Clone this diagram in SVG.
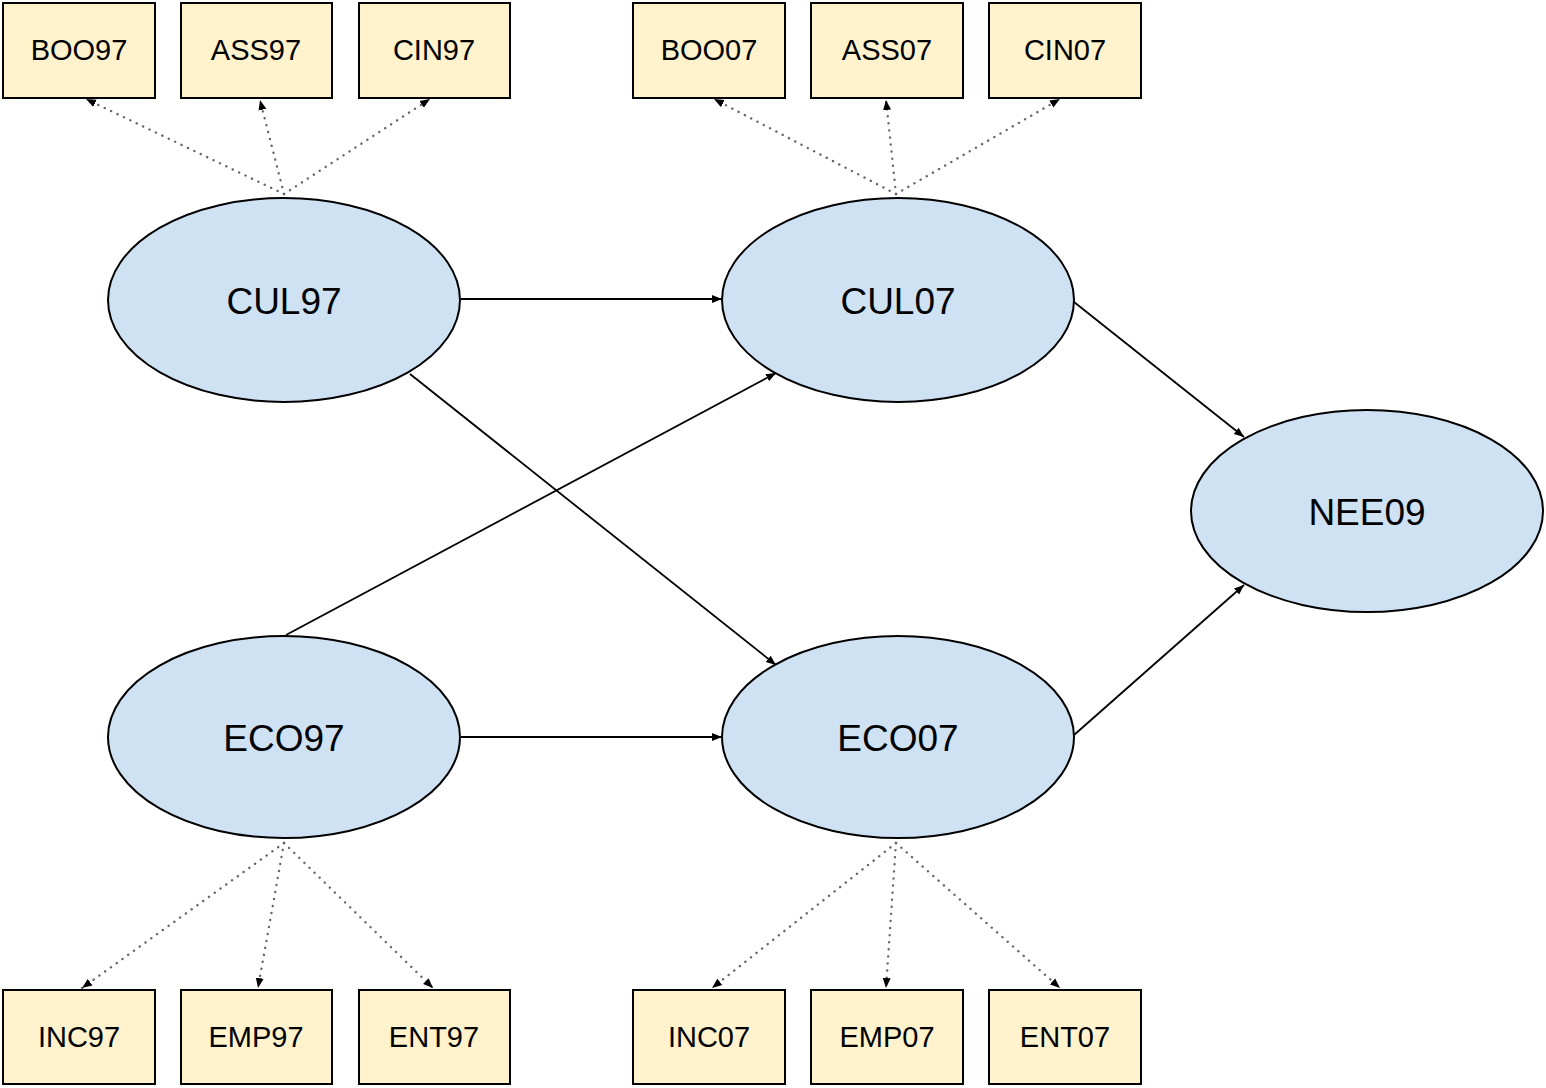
<svg xmlns="http://www.w3.org/2000/svg" width="1546" height="1088" viewBox="0 0 1546 1088">
<style>
.box{fill:#fff2cc;stroke:#000;stroke-width:2}
.ell{fill:#cfe2f3;stroke:#000;stroke-width:2}
.bt{font-family:"Liberation Sans",Arial,sans-serif;font-size:29px;fill:#000;text-anchor:middle;dominant-baseline:central}
.et{font-family:"Liberation Sans",Arial,sans-serif;font-size:37px;fill:#000;text-anchor:middle;dominant-baseline:central}
.solid{stroke:#000;stroke-width:1.8;fill:none;marker-end:url(#ah)}
.dot{stroke:#666;stroke-width:2.4;fill:none;stroke-dasharray:0.1 7;stroke-linecap:round;marker-end:url(#ah)}
</style>
<defs>
<marker id="ah" viewBox="0 0 10 10" refX="10" refY="5" markerWidth="10" markerHeight="10" markerUnits="userSpaceOnUse" orient="auto">
<path d="M0,1 L10,5 L0,9 z" fill="#000"/>
</marker>
</defs>
<rect width="1546" height="1088" fill="#fff"/>
<g id="connectors">
<line class="dot" x1="284" y1="194" x2="86" y2="99"/>
<line class="dot" x1="284" y1="194" x2="260" y2="100"/>
<line class="dot" x1="284" y1="194" x2="430" y2="99"/>
<line class="dot" x1="896" y1="194" x2="714" y2="99"/>
<line class="dot" x1="896" y1="194" x2="886" y2="100"/>
<line class="dot" x1="896" y1="194" x2="1060" y2="99"/>
<line class="dot" x1="284" y1="843" x2="82" y2="988"/>
<line class="dot" x1="284" y1="843" x2="258" y2="988"/>
<line class="dot" x1="284" y1="843" x2="433" y2="988"/>
<line class="dot" x1="896" y1="843" x2="712" y2="988"/>
<line class="dot" x1="896" y1="843" x2="886" y2="988"/>
<line class="dot" x1="896" y1="843" x2="1060" y2="988"/>
<line class="solid" x1="461" y1="299" x2="722" y2="299"/>
<line class="solid" x1="461" y1="737" x2="722" y2="737"/>
<line class="solid" x1="410" y1="374" x2="776" y2="665"/>
<line class="solid" x1="286" y1="635" x2="776" y2="373"/>
<line class="solid" x1="1074" y1="302" x2="1244" y2="437"/>
<line class="solid" x1="1074" y1="735" x2="1244" y2="585"/>
</g>
<g id="BOO97"><rect class="box" x="3" y="3" width="152" height="95"/><text class="bt" x="79" y="50">BOO97</text></g>
<g id="ASS97"><rect class="box" x="181" y="3" width="151" height="95"/><text class="bt" x="256" y="50">ASS97</text></g>
<g id="CIN97"><rect class="box" x="359" y="3" width="151" height="95"/><text class="bt" x="434" y="50">CIN97</text></g>
<g id="BOO07"><rect class="box" x="633" y="3" width="152" height="95"/><text class="bt" x="709" y="50">BOO07</text></g>
<g id="ASS07"><rect class="box" x="811" y="3" width="152" height="95"/><text class="bt" x="887" y="50">ASS07</text></g>
<g id="CIN07"><rect class="box" x="989" y="3" width="152" height="95"/><text class="bt" x="1065" y="50">CIN07</text></g>
<g id="INC97"><rect class="box" x="3" y="990" width="152" height="94"/><text class="bt" x="79" y="1037">INC97</text></g>
<g id="EMP97"><rect class="box" x="181" y="990" width="151" height="94"/><text class="bt" x="256" y="1037">EMP97</text></g>
<g id="ENT97"><rect class="box" x="359" y="990" width="151" height="94"/><text class="bt" x="434" y="1037">ENT97</text></g>
<g id="INC07"><rect class="box" x="633" y="990" width="152" height="94"/><text class="bt" x="709" y="1037">INC07</text></g>
<g id="EMP07"><rect class="box" x="811" y="990" width="152" height="94"/><text class="bt" x="887" y="1037">EMP07</text></g>
<g id="ENT07"><rect class="box" x="989" y="990" width="152" height="94"/><text class="bt" x="1065" y="1037">ENT07</text></g>
<g id="CUL97"><ellipse class="ell" cx="284" cy="300" rx="176" ry="102"/><text class="et" x="284" y="301">CUL97</text></g>
<g id="CUL07"><ellipse class="ell" cx="898" cy="300" rx="176" ry="102"/><text class="et" x="898" y="301">CUL07</text></g>
<g id="ECO97"><ellipse class="ell" cx="284" cy="737" rx="176" ry="101"/><text class="et" x="284" y="738">ECO97</text></g>
<g id="ECO07"><ellipse class="ell" cx="898" cy="737" rx="176" ry="101"/><text class="et" x="898" y="738">ECO07</text></g>
<g id="NEE09"><ellipse class="ell" cx="1367" cy="511" rx="176" ry="101"/><text class="et" x="1367" y="512">NEE09</text></g>
</svg>
